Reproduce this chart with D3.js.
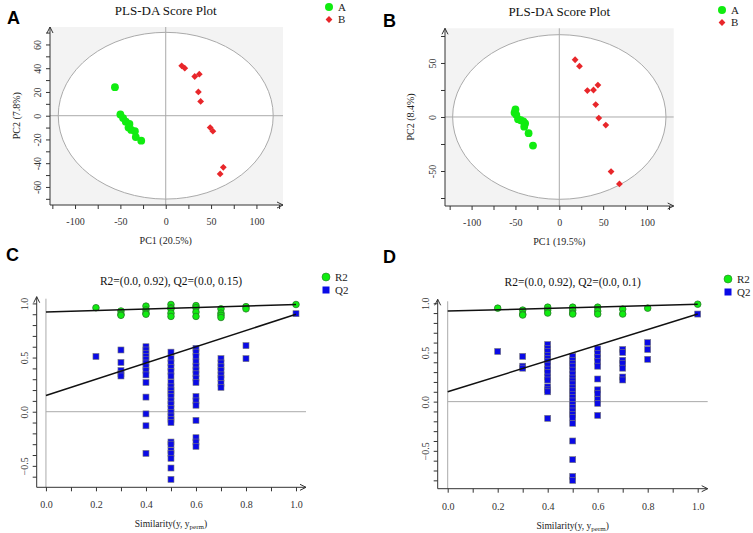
<!DOCTYPE html>
<html><head><meta charset="utf-8">
<script src="https://cdn.jsdelivr.net/npm/d3@7"></script>
<style>body{margin:0;background:#fff}svg{display:block}</style>
</head><body>
<svg id="c" width="753" height="533"></svg>
<script>
// ---------- DATA ----------
const groups = ["A", "B"];
const scoreA_groupA = [[-56,24],[-50,1],[-47,-2],[-44,-5],[-40,-7],[-41,-10],[-38,-12],[-34,-13],[-33,-18],[-27,-21]];
const scoreA_groupB = [[17.6,42],[21,40],[32,33],[37,35],[36,20],[38.5,12],[49,-10],[52,-13],[63.5,-43.5],[60,-49]];
const scoreB_groupA = [[-50,7],[-51,4],[-49,2],[-47,-2],[-44,-3],[-41,-4],[-39,-6],[-40,-9],[-35,-15],[-30,-26.5]];
const scoreB_groupB = [[18,53],[23,47],[32,24.5],[39,25],[44,29.5],[41.5,11.5],[45,-1],[53,-7.5],[59,-50.5],[68.5,-62]];
const ellipseA = [118.5, 70.2];
const ellipseB = [121.6, 76.2];
const axisTitlesA = ["PC1 (20.5%)", "PC2 (7.8%)"];
const axisTitlesB = ["PC1 (19.5%)", "PC2 (8.4%)"];
const scoreTitle = "PLS-DA Score Plot";

const permLegend = ["R2", "Q2"];
const permTitleC = "R2=(0.0, 0.92), Q2=(0.0, 0.15)";
const permTitleD = "R2=(0.0, 0.92), Q2=(0.0, 0.1)";
const r2C = [[0.2,0.96],[0.3,0.93],[0.3,0.90],[0.3,0.89],[0.4,0.975],[0.4,0.94],[0.4,0.91],[0.4,0.90],[0.5,0.99],[0.5,0.96],[0.5,0.95],[0.5,0.91],[0.5,0.88],[0.6,0.98],[0.6,0.96],[0.6,0.92],[0.6,0.88],[0.7,0.95],[0.7,0.91],[0.7,0.89],[0.7,0.87],[0.8,0.97],[0.8,0.95],[1.0,0.99]];
const q2C = [[0.2,0.51],
 [0.3,0.57],[0.3,0.455],[0.3,0.38],[0.3,0.35],[0.3,0.33],
 [0.4,0.60],[0.4,0.57],[0.4,0.54],[0.4,0.51],[0.4,0.48],[0.4,0.45],[0.4,0.415],[0.4,0.38],[0.4,0.34],[0.4,0.27],[0.4,0.135],[0.4,-0.02],[0.4,-0.13],[0.4,-0.385],
 [0.5,0.55],[0.5,0.49],[0.5,0.45],[0.5,0.41],[0.5,0.37],[0.5,0.33],[0.5,0.27],[0.5,0.23],[0.5,0.20],[0.5,0.17],[0.5,0.14],[0.5,0.10],[0.5,0.07],[0.5,0.03],[0.5,-0.006],[0.5,-0.04],[0.5,-0.07],[0.5,-0.10],[0.5,-0.28],[0.5,-0.30],[0.5,-0.36],[0.5,-0.385],[0.5,-0.43],[0.5,-0.52],[0.5,-0.625],
 [0.6,0.585],[0.6,0.55],[0.6,0.51],[0.6,0.46],[0.6,0.42],[0.6,0.385],[0.6,0.35],[0.6,0.31],[0.6,0.27],[0.6,0.14],[0.6,0.10],[0.6,0.06],[0.6,-0.08],[0.6,-0.24],[0.6,-0.28],[0.6,-0.32],
 [0.7,0.49],[0.7,0.45],[0.7,0.415],[0.7,0.38],[0.7,0.34],[0.7,0.31],[0.7,0.26],[0.7,0.225],
 [0.8,0.61],[0.8,0.49],[1.0,0.905]];
const r2D = [[0.2,0.95],[0.3,0.93],[0.3,0.89],[0.3,0.88],[0.4,0.96],[0.4,0.93],[0.4,0.90],[0.5,0.96],[0.5,0.93],[0.5,0.90],[0.5,0.89],[0.6,0.96],[0.6,0.92],[0.6,0.89],[0.7,0.94],[0.7,0.89],[0.8,0.95],[1.0,0.99]];
const q2D = [[0.2,0.51],
 [0.3,0.46],[0.3,0.36],[0.3,0.34],
 [0.4,0.58],[0.4,0.54],[0.4,0.51],[0.4,0.47],[0.4,0.44],[0.4,0.41],[0.4,0.37],[0.4,0.33],[0.4,0.295],[0.4,0.25],[0.4,0.22],[0.4,0.15],[0.4,0.12],[0.4,0.10],[0.4,-0.17],
 [0.5,0.46],[0.5,0.42],[0.5,0.39],[0.5,0.36],[0.5,0.32],[0.5,0.28],[0.5,0.24],[0.5,0.21],[0.5,0.18],[0.5,0.14],[0.5,0.11],[0.5,0.075],[0.5,0.04],[0.5,0.007],[0.5,-0.03],[0.5,-0.06],[0.5,-0.095],[0.5,-0.13],[0.5,-0.16],[0.5,-0.22],[0.5,-0.40],[0.5,-0.59],[0.5,-0.76],[0.5,-0.80],
 [0.6,0.535],[0.6,0.49],[0.6,0.45],[0.6,0.41],[0.6,0.36],[0.6,0.23],[0.6,0.12],[0.6,0.085],[0.6,0.024],[0.6,-0.017],[0.6,-0.14],
 [0.7,0.53],[0.7,0.50],[0.7,0.42],[0.7,0.39],[0.7,0.34],[0.7,0.25],[0.7,0.22],
 [0.8,0.60],[0.8,0.53],[0.8,0.43],[1.0,0.89]];
const lineC = {r2:[0.92,0.99], q2:[0.15,0.90]};
const lineD = {r2:[0.92,0.99], q2:[0.10,0.89]};
const permXLabel = "Similarity(y, y";
const permXSub = "perm";

// ---------- DRAW ----------
const svg = d3.select("#c");
const SERIF = "'Liberation Serif','DejaVu Serif',serif";
const SANS = "'Liberation Sans',Arial,sans-serif";
const GREEN = "#10ec10", RED = "#e8262a", BLUE = "#0a0ae6", AX = "#333";

function arrows(g, x0, x1, y0, y1) {
  g.append("path").attr("d", `M${x0-3},${y0+6}L${x0},${y0}L${x0+3},${y0+6}`).attr("fill","none").attr("stroke",AX);
  g.append("path").attr("d", `M${x1-6},${y1-3}L${x1},${y1}L${x1-6},${y1+3}`).attr("fill","none").attr("stroke",AX);
}

function styleAxis(a) {
  a.select(".domain").remove();
  a.selectAll(".tick line").attr("stroke", AX);
  a.selectAll("text").attr("font-family", SERIF).attr("font-size", 10).attr("fill", "#333");
}

function panelLetter(t, x, y) {
  svg.append("text").attr("x", x).attr("y", y).text(t).attr("font-family", SANS)
    .attr("font-weight", "bold").attr("font-size", 18).attr("fill", "#000");
}

function scorePanel(o) {
  const x = d3.scaleLinear().domain(o.xd).range([o.l, o.r]);
  const y = d3.scaleLinear().domain(o.yd).range([o.b, o.t]);
  const g = svg.append("g");
  g.append("rect").attr("x", o.l).attr("y", o.t).attr("width", o.r - o.l).attr("height", o.b - o.t).attr("fill", "#f3f3f3");
  g.append("ellipse").attr("cx", x(0)).attr("cy", y(0))
    .attr("rx", x(o.ell[0]) - x(0)).attr("ry", y(0) - y(o.ell[1]))
    .attr("fill", "#fff").attr("stroke", "#aaa").attr("stroke-width", 1);
  g.append("line").attr("x1", x(0)).attr("x2", x(0)).attr("y1", o.t).attr("y2", o.b).attr("stroke", "#aaa");
  g.append("line").attr("x1", o.l).attr("x2", o.r).attr("y1", y(0)).attr("y2", y(0)).attr("stroke", "#aaa");
  // axes
  const xa = g.append("g").attr("transform", `translate(0,${o.b})`)
    .call(d3.axisBottom(x).tickValues(d3.range(-125, 126, 25)).tickSize(4).tickFormat(d => d % 50 === 0 ? d : ""));
  styleAxis(xa);
  xa.selectAll("text").attr("dy", "1.3em");
  const ya = g.append("g").attr("transform", `translate(${o.l},0)`)
    .call(d3.axisLeft(y).tickValues(o.yticks).tickSize(4).tickFormat(d => o.ylab.includes(d) ? d : ""));
  styleAxis(ya);
  ya.selectAll("text").attr("transform", "rotate(-90)").attr("x", 0).attr("y", -9).attr("dy", 0).attr("text-anchor", "middle");
  g.append("line").attr("x1", o.l).attr("x2", o.l).attr("y1", o.t).attr("y2", o.b).attr("stroke", AX);
  g.append("line").attr("x1", o.l).attr("x2", o.r).attr("y1", o.b).attr("y2", o.b).attr("stroke", AX);
  arrows(g, o.l, o.r, o.t, o.b);
  // points
  g.selectAll(".ga").data(o.ga).join("circle").attr("cx", d => x(d[0])).attr("cy", d => y(d[1])).attr("r", 3.9).attr("fill", GREEN);
  g.selectAll(".gb").data(o.gb).join("path").attr("transform", d => `translate(${x(d[0])},${y(d[1])}) rotate(45)`)
    .attr("d", "M-2.4,-2.4H2.4V2.4H-2.4Z").attr("fill", RED);
  // titles
  g.append("text").attr("x", x(0)).attr("y", o.t - 12).attr("text-anchor", "middle").text(scoreTitle)
    .attr("font-family", SERIF).attr("font-size", 13).attr("fill", "#111");
  g.append("text").attr("x", x(0)).attr("y", o.b + 39).attr("text-anchor", "middle").text(o.titles[0])
    .attr("font-family", SERIF).attr("font-size", 10).attr("fill", "#222");
  g.append("text").attr("transform", `translate(${o.ylx},${y(0)}) rotate(-90)`).attr("text-anchor", "middle").text(o.titles[1])
    .attr("font-family", SERIF).attr("font-size", 10).attr("fill", "#222");
  // legend
  const lg = g.append("g").attr("transform", `translate(${o.lgx},${o.lgy})`);
  lg.append("circle").attr("cx", 0).attr("cy", 0).attr("r", 4).attr("fill", GREEN);
  lg.append("path").attr("transform", "translate(0,12.5) rotate(45)").attr("d", "M-2.4,-2.4H2.4V2.4H-2.4Z").attr("fill", RED);
  lg.selectAll("text").data(groups).join("text").attr("x", 9).attr("y", (d, i) => i * 12.5 + 3.5).text(d => d)
    .attr("font-family", SERIF).attr("font-size", 11).attr("fill", "#222");
}

function permPanel(o) {
  const x = d3.scaleLinear().domain(o.xd).range([o.l, o.r]);
  const y = d3.scaleLinear().domain(o.yd).range([o.b, o.t]);
  const g = svg.append("g");
  g.append("line").attr("x1", x(0)).attr("x2", x(0)).attr("y1", o.t + 2).attr("y2", o.b).attr("stroke", "#aaa");
  g.append("line").attr("x1", x(0)).attr("x2", o.r).attr("y1", y(0)).attr("y2", y(0)).attr("stroke", "#aaa");
  const xa = g.append("g").attr("transform", `translate(0,${o.b})`)
    .call(d3.axisBottom(x).tickValues(d3.range(0, 11).map(d => d / 10)).tickSize(4)
      .tickFormat(d => Math.round(d * 10) % 2 === 0 ? d3.format(".1f")(d) : ""));
  styleAxis(xa);
  xa.selectAll("text").attr("dy", "1.4em");
  const ya = g.append("g").attr("transform", `translate(${o.l},0)`)
    .call(d3.axisLeft(y).tickValues(o.yticks).tickSize(4)
      .tickFormat(d => Math.abs(Math.round(d * 10)) % 5 === 0 ? d3.format(".1f")(d) : ""));
  styleAxis(ya);
  ya.selectAll("text").attr("transform", "rotate(-90)").attr("x", 0).attr("y", -9).attr("dy", 0).attr("text-anchor", "middle");
  g.append("line").attr("x1", o.l).attr("x2", o.l).attr("y1", o.t).attr("y2", o.b).attr("stroke", AX);
  g.append("line").attr("x1", o.l).attr("x2", o.r).attr("y1", o.b).attr("y2", o.b).attr("stroke", AX);
  arrows(g, o.l, o.r, o.t, o.b);
  // points
  g.selectAll(".q").data(o.q2).join("rect").attr("x", d => x(d[0]) - 3).attr("y", d => y(d[1]) - 3)
    .attr("width", 6).attr("height", 6).attr("fill", BLUE).attr("stroke", "#777").attr("stroke-width", 0.6);
  g.selectAll(".r").data(o.r2).join("circle").attr("cx", d => x(d[0])).attr("cy", d => y(d[1])).attr("r", 3.3)
    .attr("fill", GREEN).attr("stroke", "#2a7a2a").attr("stroke-width", 0.8);
  // regression lines
  g.append("line").attr("x1", x(0)).attr("y1", y(o.line.r2[0])).attr("x2", x(1)).attr("y2", y(o.line.r2[1])).attr("stroke", "#111").attr("stroke-width", 1.5);
  g.append("line").attr("x1", x(0)).attr("y1", y(o.line.q2[0])).attr("x2", x(1)).attr("y2", y(o.line.q2[1])).attr("stroke", "#111").attr("stroke-width", 1.5);
  // titles
  g.append("text").attr("x", x(0.5)).attr("y", o.tty).attr("text-anchor", "middle").text(o.title)
    .attr("font-family", SERIF).attr("font-size", 11.5).attr("fill", "#111");
  const xt = g.append("text").attr("x", x(0.5)).attr("y", o.xty).attr("text-anchor", "middle")
    .attr("font-family", SERIF).attr("font-size", 9.5).attr("fill", "#222");
  xt.append("tspan").text(permXLabel);
  xt.append("tspan").attr("font-size", 7).attr("dy", 2).text(permXSub);
  xt.append("tspan").attr("dy", -2).text(")");
  // legend
  const lg = g.append("g").attr("transform", `translate(${o.lgx},${o.lgy})`);
  lg.append("circle").attr("cx", 0).attr("cy", 0).attr("r", 4).attr("fill", GREEN).attr("stroke", "#2a7a2a").attr("stroke-width", 0.6);
  lg.append("rect").attr("x", -3.5).attr("y", 9.5).attr("width", 7).attr("height", 7).attr("fill", BLUE);
  lg.selectAll("text").data(permLegend).join("text").attr("x", 9).attr("y", (d, i) => i * 13 + 4).text(d => d)
    .attr("font-family", SERIF).attr("font-size", 11).attr("fill", "#222");
}

panelLetter("A", 7, 24);
panelLetter("B", 383, 27);
panelLetter("C", 6, 261);
panelLetter("D", 383, 263);

scorePanel({l: 50, r: 283, t: 27, b: 205, xd: [-127.6, 129.3], yd: [-75.2, 74.7],
  ell: ellipseA, ga: scoreA_groupA, gb: scoreA_groupB, titles: axisTitlesA,
  yticks: d3.range(-70, 71, 10), ylab: [-60, -40, -20, 0, 20, 40, 60], ylx: 20, lgx: 329, lgy: 7});
scorePanel({l: 445, r: 673.7, t: 28.3, b: 206, xd: [-130.3, 130.4], yd: [-82.4, 82.1],
  ell: ellipseB, ga: scoreB_groupA, gb: scoreB_groupB, titles: axisTitlesB,
  yticks: d3.range(-75, 76, 25), ylab: [-50, 0, 50], ylx: 414, lgx: 722, lgy: 10});

permPanel({l: 36.7, r: 306, t: 296.7, b: 487.3, xd: [-0.037, 1.04], yd: [-0.698, 1.062],
  r2: r2C, q2: q2C, line: lineC, title: permTitleC, tty: 285, xty: 527,
  yticks: d3.range(-6, 11).map(d => d / 10), lgx: 326, lgy: 277});
permPanel({l: 437.7, r: 707.7, t: 299.3, b: 488.7, xd: [-0.04, 1.04], yd: [-0.885, 1.04],
  r2: r2D, q2: q2D, line: lineD, title: permTitleD, tty: 286, xty: 529,
  yticks: d3.range(-8, 11).map(d => d / 10), lgx: 728, lgy: 279});
</script>
</body></html>
